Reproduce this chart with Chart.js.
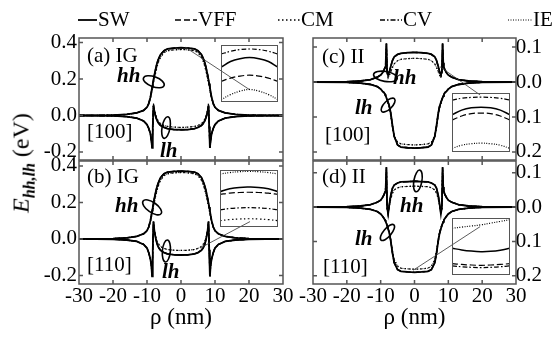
<!DOCTYPE html>
<html>
<head>
<meta charset="utf-8">
<script src="https://cdn.jsdelivr.net/npm/chart.js@4.4.1/dist/chart.umd.min.js"></script>
<style>
body{margin:0;background:#fff;}
#wrap{position:relative;width:560px;height:337px;overflow:hidden;background:#fff;font-family:"Liberation Serif","Times New Roman","DejaVu Serif",serif;color:#000;}
#wrap canvas{position:absolute;}
.t{position:absolute;font-size:21px;line-height:24px;white-space:nowrap;}
.i{font-style:italic;font-weight:bold;}
#ylab{position:absolute;left:23px;top:163px;transform:translate(-50%,-50%) rotate(-90deg);font-size:24px;white-space:nowrap;}
#ylab sub{font-size:16px;font-style:italic;font-weight:bold;}
</style>
</head>
<body>
<div id="wrap">
  <canvas id="pa" width="560" height="337" style="left:0;top:0"></canvas>
  <canvas id="pb" width="560" height="337" style="left:0;top:0"></canvas>
  <canvas id="pc" width="560" height="337" style="left:0;top:0"></canvas>
  <canvas id="pd" width="560" height="337" style="left:0;top:0"></canvas>
  <canvas id="ia" width="57" height="57" style="left:221px;top:45px"></canvas>
  <canvas id="ib" width="58" height="57" style="left:220px;top:170px"></canvas>
  <canvas id="ic" width="58" height="59" style="left:452px;top:93px"></canvas>
  <canvas id="id" width="58" height="57" style="left:452px;top:218px"></canvas>

  <div id="ylab"><i>E</i><sub>hh,lh</sub> (eV)</div>

  <div class="t" style="left:87px;top:43px">(a) IG</div>
  <div class="t i" style="left:117px;top:63px">hh</div>
  <div class="t" style="left:87px;top:119px">[100]</div>
  <div class="t i" style="left:160px;top:138px">lh</div>

  <div class="t" style="left:87px;top:164px">(b) IG</div>
  <div class="t i" style="left:115px;top:193px">hh</div>
  <div class="t" style="left:87px;top:252px">[110]</div>
  <div class="t i" style="left:162px;top:259px">lh</div>

  <div class="t" style="left:322px;top:44px">(c) II</div>
  <div class="t i" style="left:393px;top:65px">hh</div>
  <div class="t i" style="left:355px;top:95px">lh</div>
  <div class="t" style="left:325px;top:122px">[100]</div>

  <div class="t" style="left:322px;top:164px">(d) II</div>
  <div class="t i" style="left:400px;top:193px">hh</div>
  <div class="t i" style="left:355px;top:226px">lh</div>
  <div class="t" style="left:323px;top:254px">[110]</div>
</div>
<script>
// radial coordinate (nm)
const rho = [-30,-20,-16,-13,-11,-10,-9.5,-9,-8.7,-8.5,-8.3,-8.1,-7.8,-7.4,-7,-6.5,-6,-5,-4,-2,0,
             2,4,5,6,6.5,7,7.4,7.8,8.1,8.3,8.5,8.7,9,9.5,10,11,13,16,20,30];
const xTicks = [-30,-20,-10,0,10,20,30];
const leftTicks = [-0.2,0,0.2,0.4];
const rightTicks = [-0.2,-0.1,0,0.1];

// (a) IG [100]
const a_hh_SW = [0,0.002,0.006,0.014,0.028,0.045,0.065,0.1,0.13,0.155,0.175,0.195,0.225,0.26,0.29,0.315,0.335,0.355,0.365,0.37,0.372,
                 0.37,0.365,0.355,0.335,0.315,0.29,0.26,0.225,0.195,0.175,0.155,0.13,0.1,0.065,0.045,0.028,0.014,0.006,0.002,0];
const a_lh_SW = [0,-0.002,-0.006,-0.014,-0.03,-0.05,-0.07,-0.1,-0.14,-0.178,-0.06,0.055,0.02,-0.01,-0.03,-0.045,-0.055,-0.065,-0.072,-0.077,-0.078,
                 -0.077,-0.072,-0.065,-0.055,-0.045,-0.03,-0.01,0.02,0.055,-0.06,-0.178,-0.14,-0.1,-0.07,-0.05,-0.03,-0.014,-0.006,-0.002,0];
const a_hh_IE = [0,0.002,0.006,0.014,0.028,0.045,0.063,0.095,0.12,0.14,0.16,0.18,0.205,0.24,0.27,0.3,0.32,0.345,0.355,0.36,0.362,
                 0.36,0.355,0.345,0.32,0.3,0.27,0.24,0.205,0.18,0.16,0.14,0.12,0.095,0.063,0.045,0.028,0.014,0.006,0.002,0];
const a_lh_IE = [0,-0.002,-0.006,-0.014,-0.03,-0.05,-0.07,-0.1,-0.14,-0.17,-0.05,0.065,0.03,0,-0.02,-0.035,-0.045,-0.055,-0.06,-0.064,-0.065,
                 -0.064,-0.06,-0.055,-0.045,-0.035,-0.02,0,0.03,0.065,-0.05,-0.17,-0.14,-0.1,-0.07,-0.05,-0.03,-0.014,-0.006,-0.002,0];

// (b) IG [110]
const b_hh_SW = [0,0.002,0.006,0.014,0.028,0.045,0.065,0.1,0.13,0.155,0.175,0.195,0.225,0.26,0.29,0.315,0.337,0.357,0.366,0.37,0.372,
                 0.37,0.366,0.357,0.337,0.315,0.29,0.26,0.225,0.195,0.175,0.155,0.13,0.1,0.065,0.045,0.028,0.014,0.006,0.002,0];
const b_lh_SW = [0,-0.002,-0.006,-0.014,-0.03,-0.05,-0.075,-0.11,-0.15,-0.205,-0.06,0.095,0.04,0,-0.03,-0.05,-0.062,-0.075,-0.082,-0.087,-0.088,
                 -0.087,-0.082,-0.075,-0.062,-0.05,-0.03,0,0.04,0.095,-0.06,-0.205,-0.15,-0.11,-0.075,-0.05,-0.03,-0.014,-0.006,-0.002,0];
const b_hh_IE = [0,0.002,0.006,0.014,0.028,0.045,0.063,0.095,0.12,0.14,0.16,0.18,0.205,0.24,0.27,0.3,0.322,0.347,0.357,0.362,0.364,
                 0.362,0.357,0.347,0.322,0.3,0.27,0.24,0.205,0.18,0.16,0.14,0.12,0.095,0.063,0.045,0.028,0.014,0.006,0.002,0];
const b_lh_IE = [0,-0.002,-0.006,-0.014,-0.03,-0.05,-0.075,-0.11,-0.15,-0.19,-0.05,0.085,0.045,0.01,-0.015,-0.03,-0.042,-0.052,-0.058,-0.062,-0.063,
                 -0.062,-0.058,-0.052,-0.042,-0.03,-0.015,0.01,0.045,0.085,-0.05,-0.19,-0.15,-0.11,-0.075,-0.05,-0.03,-0.014,-0.006,-0.002,0];

// (c) II [100]
const c_hh_SW = [0,0.001,0.003,0.007,0.014,0.02,0.026,0.035,0.042,0.055,0.11,0.03,0.02,0.03,0.045,0.062,0.072,0.079,0.082,0.084,0.085,
                 0.084,0.082,0.079,0.072,0.062,0.045,0.03,0.02,0.03,0.11,0.055,0.042,0.035,0.026,0.02,0.014,0.007,0.003,0.001,0];
const c_lh_SW = [0,-0.001,-0.003,-0.007,-0.013,-0.02,-0.026,-0.03,-0.035,-0.04,-0.045,-0.05,-0.058,-0.07,-0.09,-0.125,-0.155,-0.18,-0.186,-0.188,-0.189,
                 -0.188,-0.186,-0.18,-0.155,-0.125,-0.09,-0.07,-0.058,-0.05,-0.045,-0.04,-0.035,-0.03,-0.026,-0.02,-0.013,-0.007,-0.003,-0.001,0];
const c_hh_IE = [0,0.001,0.003,0.007,0.014,0.02,0.026,0.034,0.04,0.05,0.1,0.025,0.012,0.02,0.03,0.042,0.052,0.061,0.065,0.067,0.068,
                 0.067,0.065,0.061,0.052,0.042,0.03,0.02,0.012,0.025,0.1,0.05,0.04,0.034,0.026,0.02,0.014,0.007,0.003,0.001,0];
const c_lh_IE = [0,-0.001,-0.003,-0.007,-0.013,-0.02,-0.026,-0.032,-0.037,-0.042,-0.047,-0.053,-0.062,-0.076,-0.097,-0.13,-0.155,-0.172,-0.177,-0.179,-0.18,
                 -0.179,-0.177,-0.172,-0.155,-0.13,-0.097,-0.076,-0.062,-0.053,-0.047,-0.042,-0.037,-0.032,-0.026,-0.02,-0.013,-0.007,-0.003,-0.001,0];

// (d) II [110]
const d_hh_SW = [0,0.001,0.003,0.007,0.014,0.02,0.027,0.036,0.045,0.058,0.116,0,-0.02,0.01,0.035,0.055,0.064,0.07,0.073,0.074,0.075,
                 0.074,0.073,0.07,0.064,0.055,0.035,0.01,-0.02,0,0.116,0.058,0.045,0.036,0.027,0.02,0.014,0.007,0.003,0.001,0];
const d_lh_SW = [0,-0.001,-0.003,-0.007,-0.013,-0.02,-0.026,-0.033,-0.038,-0.043,-0.048,-0.054,-0.063,-0.077,-0.1,-0.135,-0.162,-0.182,-0.187,-0.189,-0.19,
                 -0.189,-0.187,-0.182,-0.162,-0.135,-0.1,-0.077,-0.063,-0.054,-0.048,-0.043,-0.038,-0.033,-0.026,-0.02,-0.013,-0.007,-0.003,-0.001,0];
const d_hh_IE = [0,0.001,0.003,0.007,0.014,0.02,0.027,0.035,0.043,0.055,0.105,-0.005,-0.015,0.005,0.025,0.04,0.05,0.056,0.059,0.06,0.061,
                 0.06,0.059,0.056,0.05,0.04,0.025,0.005,-0.015,-0.005,0.105,0.055,0.043,0.035,0.027,0.02,0.014,0.007,0.003,0.001,0];
const d_lh_IE = [0,-0.001,-0.003,-0.007,-0.013,-0.02,-0.026,-0.032,-0.037,-0.042,-0.047,-0.052,-0.06,-0.073,-0.095,-0.128,-0.153,-0.172,-0.178,-0.18,-0.181,
                 -0.18,-0.178,-0.172,-0.153,-0.128,-0.095,-0.073,-0.06,-0.052,-0.047,-0.042,-0.037,-0.032,-0.026,-0.02,-0.013,-0.007,-0.003,-0.001,0];

// insets (zoomed, arbitrary units)
const insetX = [0,1,2,3,4,5,6];
const ia_CV  = [84,89,92,93,92,89,84];
const ia_SW  = [61,71,76,78,76,71,61];
const ia_VFF = [36,42,45.5,47,45.5,42,36];
const ia_IE  = [4,13,19,22,19,13,4];
const ib_IE  = [93,95.5,97,97.5,97,95.5,93];
const ib_SW  = [62,67,69.5,70,69.5,67,62];
const ib_VFF = [57,59.5,60.5,61,60.5,59.5,57];
const ib_CV  = [30,32.5,33.5,34,33.5,32.5,30];
const ib_CM  = [11,13,14,14.5,14,13,11];
const ic_CV  = [88,91,92.5,93,92.5,91,88];
const ic_SW  = [63,71,75,76,75,71,63];
const ic_VFF = [54,61,65,66,65,61,54];
const ic_IE  = [6,11.5,14,15,14,11.5,6];
const id_IE  = [82,84,86,88,91,94,97];
const id_SW  = [47,44,42,41,41.5,43.5,47];
const id_VFF = [20,18.5,17.5,17,17.5,18.5,20];
const id_CV  = [16,14.5,13.5,13,13.5,14.5,16];

const styles = {
  SW:  {dash: [], width: 1.8},
  VFF: {dash: [6,3], width: 1.3},
  CM:  {dash: [1.5,2.5], width: 1.3},
  CV:  {dash: [5,2,1.5,2], width: 1.3},
  IE:  {dash: [1,1.5], width: 1}
};
const modelNames = ['SW','VFF','CM','CV','IE'];
const FONT = '"Liberation Serif", "Times New Roman", "DejaVu Serif", serif';

function pts(xs, ys) {
  return xs.map((r, i) => ({x: r, y: ys[i]}));
}

function line(name, xs, ys) {
  return {
    label: name,
    data: pts(xs, ys),
    borderColor: '#000',
    backgroundColor: 'transparent',
    borderWidth: styles[name].width,
    borderDash: styles[name].dash,
    pointRadius: 0,
    fill: false
  };
}

// frame, inward ticks, ellipses and pointer line
const framePlugin = {
  id: 'frame',
  afterDatasetsDraw(chart, args, o) {
    const {ctx, chartArea: a, scales: {x, y}} = chart;
    ctx.save();
    ctx.strokeStyle = '#555';
    ctx.lineWidth = 1.5;
    ctx.strokeRect(a.left, a.top, a.right - a.left, a.bottom - a.top);
    ctx.beginPath();
    xTicks.slice(1, -1).forEach(v => {
      const px = x.getPixelForValue(v);
      ctx.moveTo(px, a.top); ctx.lineTo(px, a.top + 4);
      ctx.moveTo(px, a.bottom); ctx.lineTo(px, a.bottom - 4);
    });
    o.yTicks.forEach(v => {
      const py = y.getPixelForValue(v);
      ctx.moveTo(a.left, py); ctx.lineTo(a.left + 4, py);
      ctx.moveTo(a.right, py); ctx.lineTo(a.right - 4, py);
    });
    ctx.stroke();

    ctx.strokeStyle = '#000';
    ctx.lineWidth = 1.6;
    o.rings.forEach(r => {
      ctx.beginPath();
      ctx.ellipse(x.getPixelForValue(r.x), y.getPixelForValue(r.y), r.rx, r.ry, r.rot * Math.PI / 180, 0, Math.PI * 2);
      ctx.stroke();
    });

    ctx.strokeStyle = '#333';
    ctx.lineWidth = 0.8;
    ctx.beginPath();
    ctx.moveTo(x.getPixelForValue(o.pointer[0]), y.getPixelForValue(o.pointer[1]));
    ctx.lineTo(x.getPixelForValue(o.pointer[2]), y.getPixelForValue(o.pointer[3]));
    ctx.stroke();
    ctx.restore();
  }
};

// model key along the top
const keyPlugin = {
  id: 'key',
  afterDraw(chart, args, o) {
    if (!o.items) return;
    const ctx = chart.ctx;
    ctx.save();
    ctx.font = '21px ' + FONT;
    ctx.fillStyle = '#000';
    ctx.strokeStyle = '#000';
    ctx.textBaseline = 'middle';
    o.items.forEach((it, i) => {
      const st = styles[modelNames[i]];
      ctx.lineWidth = st.width;
      ctx.setLineDash(st.dash);
      ctx.beginPath();
      ctx.moveTo(it.x, o.y);
      ctx.lineTo(it.x + it.w, o.y);
      ctx.stroke();
      ctx.setLineDash([]);
      ctx.fillText(modelNames[i], it.x + it.w + 1, o.y);
    });
    ctx.restore();
  }
};

const panels = [
  {id: 'pa', hh: [a_hh_SW, a_hh_IE], lh: [a_lh_SW, a_lh_IE], min: -0.244, max: 0.425, ticks: leftTicks, side: 'left',
   pad: {left: 39, right: 277, top: 38, bottom: 177}, showX: false,
   rings: [{x: -8.0, y: 0.185, rx: 11, ry: 5, rot: 20}, {x: -4.4, y: -0.066, rx: 4, ry: 11, rot: 10}],
   pointer: [1.2, 0.375, 20.3, 0.14],
   key: {y: 20, items: [{x: 78, w: 19}, {x: 175, w: 22}, {x: 278, w: 22}, {x: 380, w: 22}, {x: 508, w: 24}]}},
  {id: 'pb', hh: [b_hh_SW, b_hh_IE], lh: [b_lh_SW, b_lh_IE], min: -0.247, max: 0.427, ticks: leftTicks, side: 'left',
   pad: {left: 39, right: 277, top: 161, bottom: 3}, showX: true,
   rings: [{x: -8.5, y: 0.173, rx: 11, ry: 5, rot: 35}, {x: -4.3, y: -0.066, rx: 4, ry: 11, rot: 5}],
   pointer: [5.6, -0.05, 20.3, 0.095]},
  {id: 'pc', hh: [c_hh_SW, c_hh_IE], lh: [c_lh_SW, c_lh_IE], min: -0.223, max: 0.126, ticks: rightTicks, side: 'right',
   pad: {left: 313, right: 18, top: 38, bottom: 177}, showX: false,
   rings: [{x: -8.6, y: 0.016, rx: 12, ry: 5, rot: 10}, {x: -7.8, y: -0.066, rx: 9, ry: 4, rot: -45}],
   pointer: [7.5, 0.044, 19.4, -0.037]},
  {id: 'pd', hh: [d_hh_SW, d_hh_IE], lh: [d_lh_SW, d_lh_IE], min: -0.224, max: 0.134, ticks: rightTicks, side: 'right',
   pad: {left: 313, right: 18, top: 161, bottom: 3}, showX: true,
   rings: [{x: 1.0, y: 0.076, rx: 4, ry: 11, rot: 10}, {x: -8.0, y: -0.074, rx: 10, ry: 4, rot: -50}],
   pointer: [-0.4, -0.184, 19.4, -0.057]}
];

panels.forEach(p => {
  const datasets = [];
  [p.hh, p.lh].forEach(pair => {
    datasets.push(line('SW', rho, pair[0]));
    datasets.push(line('VFF', rho, pair[0]));
    datasets.push(line('CM', rho, pair[1]));
    datasets.push(line('CV', rho, pair[0]));
    datasets.push(line('IE', rho, pair[1]));
  });
  new Chart(document.getElementById(p.id), {
    type: 'line',
    data: {datasets: datasets},
    options: {
      responsive: false,
      animation: false,
      events: [],
      layout: {padding: p.pad},
      elements: {line: {tension: 0}, point: {radius: 0}},
      plugins: {
        legend: {display: false},
        tooltip: {enabled: false},
        frame: {yTicks: p.ticks, rings: p.rings, pointer: p.pointer},
        key: p.key || {}
      },
      scales: {
        x: {
          type: 'linear', min: -30, max: 30,
          display: p.showX,
          grid: {display: false, drawTicks: false},
          border: {display: false},
          afterBuildTicks: s => { s.ticks = xTicks.map(v => ({value: v})); },
          afterFit: s => { s.height = p.showX ? 50 : 0; s.paddingLeft = 0; s.paddingRight = 0; },
          ticks: {autoSkip: false, maxRotation: 0, minRotation: 0, padding: 0, color: '#000',
                  font: {family: FONT, size: 21}, callback: v => String(v)},
          title: {display: true, text: 'ρ (nm)', color: '#000', padding: {top: 0, bottom: 2},
                  font: {family: FONT, size: 23}}
        },
        y: {
          type: 'linear', position: p.side, min: p.min, max: p.max,
          grid: {display: false, drawTicks: false},
          border: {display: false},
          afterBuildTicks: s => { s.ticks = p.ticks.map(v => ({value: v})); },
          afterFit: s => { s.width = p.side === 'left' ? 40 : 26; s.paddingTop = 0; s.paddingBottom = 0; },
          ticks: {padding: p.side === 'left' ? 2 : -6, color: '#000', crossAlign: p.side === 'left' ? 'near' : 'far',
                  font: {family: FONT, size: 21}, callback: v => v.toFixed(1)}
        }
      }
    },
    plugins: [framePlugin, keyPlugin]
  });
});

// zoomed insets
const boxPlugin = {
  id: 'box',
  afterDraw(chart) {
    const ctx = chart.ctx;
    ctx.save();
    ctx.strokeStyle = '#555';
    ctx.lineWidth = 1;
    ctx.strokeRect(0.5, 0.5, chart.width - 1, chart.height - 1);
    ctx.restore();
  }
};

const insets = [
  {id: 'ia', curves: [['CV', ia_CV], ['SW', ia_SW], ['VFF', ia_VFF], ['IE', ia_IE]]},
  {id: 'ib', curves: [['IE', ib_IE], ['SW', ib_SW], ['VFF', ib_VFF], ['CV', ib_CV], ['CM', ib_CM]]},
  {id: 'ic', curves: [['CV', ic_CV], ['SW', ic_SW], ['VFF', ic_VFF], ['IE', ic_IE]]},
  {id: 'id', curves: [['IE', id_IE], ['SW', id_SW], ['VFF', id_VFF], ['CV', id_CV]]}
];

insets.forEach(ins => {
  new Chart(document.getElementById(ins.id), {
    type: 'line',
    data: {datasets: ins.curves.map(c => Object.assign(line(c[0], insetX, c[1]), {tension: 0.4, borderWidth: c[0] === 'SW' ? 1.5 : 1.2}))},
    options: {
      responsive: false,
      animation: false,
      events: [],
      layout: {padding: 0},
      plugins: {legend: {display: false}, tooltip: {enabled: false}},
      scales: {
        x: {type: 'linear', min: 0, max: 6, display: false},
        y: {type: 'linear', min: 0, max: 100, display: false}
      }
    },
    plugins: [boxPlugin]
  });
});
</script>
</body>
</html>
